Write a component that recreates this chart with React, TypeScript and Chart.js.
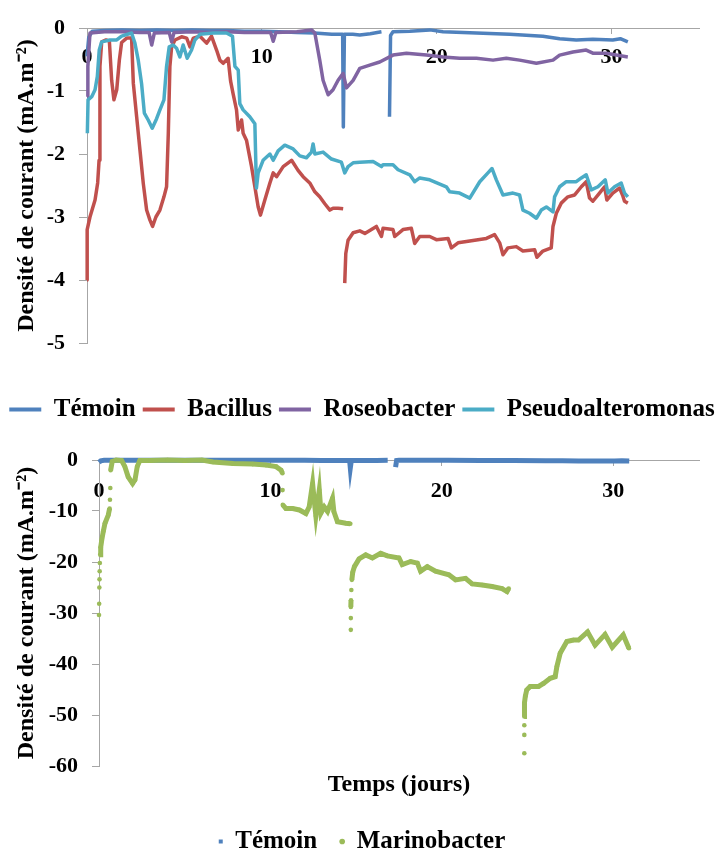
import React, { useEffect, useRef } from 'react';
import { Chart, registerables } from 'chart.js';

Chart.register(...registerables);

const FONT = "'Liberation Serif', 'Times New Roman', serif";

type P = [number, number | null];

// ---------- Top chart data (t in days, current density mA.m-2) ----------
const temoin: P[] = [
  [0, -0.45], [0.1, -0.15], [0.3, -0.05], [1, -0.04], [2, -0.03], [3, -0.04], [4, -0.03], [5, -0.04],
  [6, -0.03], [7, -0.04], [8, -0.04], [9, -0.05], [10, -0.05], [11, -0.06], [12, -0.07], [13, -0.08],
  [14, -0.1], [14.4, -0.1], [14.62, -0.1], [14.66, -1.57], [14.72, -0.1], [15.2, -0.1], [15.6, -0.11],
  [16.2, -0.09], [16.84, -0.06], [17.05, null], [17.3, -1.41], [17.36, -0.12], [17.5, -0.06],
  [18.46, -0.05], [19.6, -0.03], [20.36, -0.06], [22.27, -0.08], [24.17, -0.1], [26.07, -0.13],
  [27.03, -0.17], [27.98, -0.19], [28.93, -0.18], [30.07, -0.19], [30.5, -0.17], [30.93, -0.22],
];

const bacillus: P[] = [
  [0, -4.0], [0.01, -3.2], [0.17, -3.0], [0.46, -2.73], [0.61, -2.46], [0.69, -2.1], [0.74, -0.61],
  [0.84, -0.22], [1.09, -0.19], [1.28, -0.21], [1.41, -0.83], [1.54, -1.14], [1.7, -0.98], [1.85, -0.51],
  [1.98, -0.23], [2.27, -0.16], [2.55, -0.16], [2.65, -0.88], [2.84, -1.41], [3.03, -1.94], [3.22, -2.47],
  [3.41, -2.89], [3.6, -3.05], [3.75, -3.15], [3.94, -3.0], [4.17, -2.89], [4.4, -2.68], [4.55, -2.52],
  [4.65, -1.67], [4.74, -0.61], [4.84, -0.3], [5.03, -0.19], [5.41, -0.14], [5.7, -0.16], [5.89, -0.3],
  [6.08, -0.16], [6.46, -0.13], [6.84, -0.24], [7.12, -0.13], [7.41, -0.35], [7.6, -0.51], [7.79, -0.56],
  [8.07, -0.48], [8.21, -0.84], [8.36, -1.05], [8.55, -1.3], [8.65, -1.62], [8.84, -1.46], [8.93, -1.67],
  [9.12, -1.78], [9.41, -2.2], [9.6, -2.52], [9.79, -2.84], [9.92, -2.97], [10.17, -2.73], [10.46, -2.46],
  [10.65, -2.3], [10.84, -2.36], [11.22, -2.2], [11.7, -2.1], [12.07, -2.26], [12.36, -2.36],
  [12.74, -2.46], [13.03, -2.6], [13.31, -2.68], [13.6, -2.79], [13.89, -2.89], [14.07, -2.86],
  [14.36, -2.86], [14.65, -2.87], [14.7, null], [14.74, -4.05], [14.8, -3.58], [14.93, -3.37],
  [15.22, -3.25], [15.6, -3.22], [15.89, -3.26], [16.55, -3.15], [16.84, -3.31], [16.93, -3.18],
  [17.5, -3.2], [17.6, -3.31], [18.07, -3.2], [18.55, -3.18], [18.74, -3.42], [19.03, -3.31],
  [19.6, -3.31], [19.98, -3.36], [20.65, -3.34], [20.84, -3.49], [21.22, -3.41], [21.7, -3.39],
  [22.36, -3.36], [22.84, -3.34], [23.31, -3.28], [23.6, -3.41], [23.79, -3.6], [24.07, -3.49],
  [24.55, -3.47], [24.93, -3.54], [25.6, -3.52], [25.73, -3.64], [26.07, -3.54], [26.55, -3.49],
  [26.65, -3.15], [26.84, -2.94], [27.12, -2.78], [27.5, -2.68], [27.89, -2.65], [28.27, -2.52],
  [28.55, -2.44], [28.74, -2.7], [28.93, -2.75], [29.31, -2.62], [29.6, -2.52], [29.73, -2.73],
  [30.07, -2.62], [30.46, -2.54], [30.65, -2.67], [30.74, -2.75], [30.93, -2.78],
];

const roseobacter: P[] = [
  [0, -1.09], [0.05, -0.61], [0.17, -0.08], [1, -0.06], [2, -0.06], [3, -0.07], [3.55, -0.07],
  [3.7, -0.27], [3.85, -0.08], [4.7, -0.07], [4.84, -0.22], [4.98, -0.07], [6, -0.06], [7, -0.07],
  [8, -0.06], [9, -0.07], [10.5, -0.07], [10.65, -0.21], [10.8, -0.07], [12, -0.06], [12.84, -0.03],
  [13.03, -0.08], [13.31, -0.51], [13.5, -0.83], [13.79, -1.06], [14.07, -0.98], [14.36, -0.83],
  [14.65, -0.72], [14.84, -0.95], [15.22, -0.83], [15.6, -0.64], [16.17, -0.59], [16.74, -0.54],
  [17.5, -0.43], [18.27, -0.4], [19.41, -0.43], [20.36, -0.46], [21.31, -0.48], [22.27, -0.48],
  [23.22, -0.51], [23.98, -0.48], [24.74, -0.51], [25.7, -0.56], [26.65, -0.51], [27.03, -0.43],
  [27.79, -0.38], [28.55, -0.35], [28.93, -0.4], [29.7, -0.4], [30.27, -0.43], [30.93, -0.46],
];

const pseudoalteromonas: P[] = [
  [0.02, -1.67], [0.06, -1.14], [0.27, -1.09], [0.46, -0.98], [0.59, -0.77], [0.7, -0.35], [0.84, -0.22],
  [1.31, -0.19], [1.7, -0.19], [1.98, -0.13], [2.55, -0.08], [2.74, -0.24], [2.93, -0.51], [3.12, -0.88],
  [3.28, -1.35], [3.5, -1.46], [3.73, -1.59], [3.98, -1.44], [4.17, -1.3], [4.4, -1.14], [4.55, -0.61],
  [4.7, -0.3], [4.93, -0.27], [5.12, -0.32], [5.31, -0.46], [5.5, -0.27], [5.73, -0.48], [5.98, -0.35],
  [6.17, -0.19], [6.46, -0.1], [7.22, -0.08], [7.98, -0.08], [8.32, -0.13], [8.46, -0.61], [8.65, -0.67],
  [8.74, -1.2], [8.93, -1.3], [9.31, -1.41], [9.6, -1.52], [9.69, -2.54], [9.79, -2.3], [10.07, -2.1],
  [10.46, -2.0], [10.65, -2.1], [10.93, -1.95], [11.31, -1.86], [11.79, -1.92], [12.17, -2.03],
  [12.55, -2.06], [12.84, -1.97], [12.93, -1.84], [13.03, -2.0], [13.5, -1.97], [13.98, -2.08],
  [14.55, -2.13], [14.74, -2.3], [14.93, -2.2], [15.22, -2.14], [15.6, -2.13], [16.36, -2.12],
  [16.84, -2.2], [16.93, -2.17], [17.5, -2.17], [17.79, -2.25], [18.46, -2.33], [18.74, -2.44],
  [19.03, -2.38], [19.6, -2.41], [20.55, -2.52], [20.74, -2.6], [21.31, -2.62], [21.89, -2.7],
  [22.46, -2.44], [22.93, -2.3], [23.16, -2.23], [23.41, -2.41], [23.79, -2.65], [24.36, -2.62],
  [24.74, -2.65], [24.93, -2.89], [25.31, -2.94], [25.7, -3.02], [25.98, -2.89], [26.27, -2.84],
  [26.65, -2.92], [26.74, -2.68], [27.03, -2.52], [27.41, -2.44], [27.98, -2.44], [28.27, -2.38],
  [28.55, -2.33], [28.84, -2.57], [29.22, -2.52], [29.64, -2.41], [29.79, -2.62], [30.17, -2.52],
  [30.55, -2.46], [30.74, -2.62], [30.93, -2.68],
];

// ---------- Bottom chart data ----------
const marinobacter: P[] = [
  [0, -30.4], [0.01, -28.2], [0.02, -25.0], [0.03, -23.4], [0.04, -21.8], [0.05, -20.2], [0.07, -18.6],
  [0.1, -17.1], [0.16, -15.7], [0.25, -14.0], [0.35, -12.4], [0.54, -10.8], [0.62, -9.5], [0.64, -7.8],
  [0.66, -5.5], [0.68, -2.0], [0.77, -0.3], [1.0, 0], [1.32, -0.1], [1.51, -1.3], [1.7, -3.3],
  [1.96, -4.6], [2.1, -3.9], [2.23, -1.3], [2.38, -0.1], [3, -0.1], [4, 0], [5, -0.1], [6, 0],
  [6.65, -0.4], [7.81, -0.7], [8.97, -0.8], [9.74, -1.0], [10.33, -1.3], [10.62, -2.0], [10.7, -2.6],
  [10.71, -5.9], [10.72, -8.8], [10.9, -9.5], [11.3, -9.5], [11.69, -9.8], [12.07, -10.5], [12.26, -9.2],
  [12.46, -4.6], [12.55, -7.8], [12.65, -11.0], [12.85, -5.9], [12.95, -10.4], [13.14, -9.2],
  [13.33, -10.1], [13.62, -7.5], [13.7, -10.1], [13.91, -12.1], [14.4, -12.4], [14.66, -12.5],
  [14.68, null], [14.69, -33.3], [14.69, -31.0], [14.69, -28.8], [14.7, -27.5], [14.72, -25.5],
  [14.75, -23.5], [14.8, -22.0], [14.9, -20.9], [15.17, -19.4], [15.56, -18.6], [15.95, -19.2],
  [16.43, -18.3], [16.82, -18.8], [17.5, -19.2], [17.69, -20.5], [18.18, -19.9], [18.57, -20.2],
  [18.76, -21.8], [19.15, -20.9], [19.63, -21.8], [20.41, -22.5], [20.8, -23.5], [21.38, -23.2],
  [21.77, -24.3], [22.35, -24.5], [22.93, -24.8], [23.51, -25.2], [23.8, -25.8], [23.9, -25.2],
  [24.3, null], [24.81, -57.5], [24.81, -53.9], [24.81, -52.0], [24.81, -50.3], [24.81, -49.0],
  [24.83, -47.6], [24.87, -46.3], [24.95, -45.1], [25.15, -44.4], [25.64, -44.4], [25.93, -43.8],
  [26.32, -42.8], [26.61, -42.5], [26.71, -40.5], [26.9, -37.9], [27.29, -35.6], [27.68, -35.3],
  [27.97, -35.3], [28.5, -33.7], [28.94, -36.3], [29.52, -34.2], [29.94, -36.7], [30.58, -34.3],
  [30.91, -36.9],
];

const topNames = ['Témoin', 'Bacillus', 'Roseobacter', 'Pseudoalteromonas'];
const topColors = ['#4F81BD', '#C0504D', '#8064A2', '#4BACC6'];
const bottomNames = ['Témoin', 'Marinobacter'];
const bottomColors = ['#4F81BD', '#9BBB59'];

const xTicksMax = 35;
const xStep = 10;
const topYMin = -5;
const topYStep = 1;
const bottomYMin = -60;
const bottomYStep = 10;

const yTitle = 'Densité de courant (mA.m⁻²)';
const xTitle = 'Temps (jours)';

const AXIS = '#a6a6a6';
const toXY = (arr: P[]) => arr.map(([x, y]) => ({ x, y }));
const tickFont = { family: FONT, size: 22, weight: 'bold' as const };
const titleFont = { family: FONT, size: 24, weight: 'bold' as const };
const legendFont = { family: FONT, size: 25, weight: 'bold' as const };

const spacer = (axis: 'x' | 'y', position: string, size: number, extra: any = {}) =>
  ({
    type: 'linear',
    axis,
    position,
    display: true,
    ticks: { display: false },
    grid: { display: false, drawTicks: false },
    border: { display: false },
    afterFit: (s: any) => {
      if (axis === 'x') s.height = size;
      else s.width = size;
    },
    ...extra,
  }) as any;

function TopChart() {
  const ref = useRef<HTMLCanvasElement>(null);
  useEffect(() => {
    const series = [temoin, bacillus, roseobacter, pseudoalteromonas];
    const chart = new Chart(ref.current!, {
      type: 'line',
      data: {
        datasets: series.map((s, i) => ({
          label: topNames[i],
          data: toXY(s),
          xAxisID: 'x',
          yAxisID: 'y',
          borderColor: topColors[i],
          backgroundColor: topColors[i],
          borderWidth: 3.5,
          pointRadius: 0,
          tension: 0,
          clip: false as any,
          borderJoinStyle: 'round' as const,
          order: 3 - i,
        })),
      },
      options: {
        responsive: false,
        animation: false,
        events: [],
        layout: { padding: { top: 28, right: 0, bottom: 8, left: 0 } },
        plugins: {
          tooltip: { enabled: false },
          legend: {
            position: 'bottom',
            labels: {
              font: legendFont,
              color: '#000',
              boxWidth: 32,
              boxHeight: 4,
              padding: 7,
              generateLabels: () =>
                topNames.map((n, i) => ({
                  text: n,
                  fillStyle: topColors[i],
                  strokeStyle: topColors[i],
                  lineWidth: 0,
                  hidden: false,
                  datasetIndex: i,
                })),
            },
          },
        },
        scales: {
          x: {
            type: 'linear',
            position: { y: 0 } as any,
            min: 0,
            max: xTicksMax,
            ticks: { stepSize: xStep, includeBounds: false, font: tickFont, color: '#000', padding: 11, maxRotation: 0 },
            grid: { drawOnChartArea: false, tickLength: 5, color: AXIS },
            border: { color: AXIS },
          },
          y: {
            type: 'linear',
            position: 'left',
            min: topYMin,
            max: 0,
            ticks: { stepSize: topYStep, font: tickFont, color: '#000', padding: 14 },
            grid: { drawOnChartArea: false, tickLength: 8, color: AXIS },
            border: { color: AXIS },
            title: { display: true, text: yTitle, font: titleFont, color: '#000', padding: { top: 12, bottom: 0 } },
            afterFit: (s: any) => {
              s.width = 87;
            },
          },
          gap: spacer('x', 'bottom', 47),
          gapR: spacer('y', 'right', 25),
        },
      },
    });
    return () => chart.destroy();
  }, []);
  return (
    <canvas
      ref={ref}
      width={724}
      height={440}
      style={{ position: 'absolute', left: 0, top: 0, width: 724, height: 440 }}
    />
  );
}

function BottomChart() {
  const ref = useRef<HTMLCanvasElement>(null);
  useEffect(() => {
    const chart = new Chart(ref.current!, {
      type: 'line',
      data: {
        datasets: [
          {
            label: bottomNames[1],
            data: toXY(marinobacter),
            xAxisID: 'x',
            yAxisID: 'y',
            borderColor: bottomColors[1],
            backgroundColor: bottomColors[1],
            borderWidth: 5,
            pointRadius: 2.3,
            pointBorderWidth: 0,
            pointBackgroundColor: bottomColors[1],
            pointStyle: 'circle',
            tension: 0,
            clip: false as any,
            order: 0,
            segment: {
              borderColor: (ctx: any) => {
                const a = marinobacter[ctx.p0DataIndex];
                const b = marinobacter[ctx.p1DataIndex];
                if (!a || !b || a[1] === null || b[1] === null) return undefined;
                return Math.abs((b[1] as number) - (a[1] as number)) > 1.5 && Math.abs(b[0] - a[0]) < 0.03
                  ? 'rgba(0,0,0,0)'
                  : undefined;
              },
            },
          },
          {
            label: bottomNames[0],
            data: toXY(temoin),
            xAxisID: 'x',
            yAxisID: 'y',
            borderColor: bottomColors[0],
            backgroundColor: bottomColors[0],
            borderWidth: 5,
            pointRadius: 0,
            pointStyle: 'rect',
            tension: 0,
            clip: false as any,
            borderCapStyle: 'butt' as const,
            order: 1,
          },
        ],
      },
      options: {
        responsive: false,
        animation: false,
        events: [],
        layout: { padding: { top: 28, right: 0, bottom: 16, left: 0 } },
        plugins: {
          tooltip: { enabled: false },
          legend: {
            position: 'bottom',
            labels: {
              font: legendFont,
              color: '#000',
              usePointStyle: true,
              boxWidth: 4,
              boxHeight: 4,
              padding: 23,
              generateLabels: () =>
                bottomNames.map((n, i) => ({
                  text: n,
                  fillStyle: bottomColors[i],
                  strokeStyle: bottomColors[i],
                  lineWidth: 0,
                  pointStyle: i === 0 ? 'rect' : 'circle',
                  hidden: false,
                  datasetIndex: i,
                })),
            },
          },
        },
        scales: {
          x: {
            type: 'linear',
            position: { y: 0 } as any,
            min: 0,
            max: xTicksMax,
            ticks: { stepSize: xStep, includeBounds: false, font: tickFont, color: '#000', padding: 13, maxRotation: 0 },
            grid: { drawOnChartArea: false, tickLength: 5, color: AXIS },
            border: { color: AXIS },
          },
          y: {
            type: 'linear',
            position: 'left',
            min: bottomYMin,
            max: 0,
            ticks: { stepSize: bottomYStep, font: tickFont, color: '#000', padding: 14 },
            grid: { drawOnChartArea: false, tickLength: 7, color: AXIS },
            border: { color: AXIS },
            title: { display: true, text: yTitle, font: titleFont, color: '#000', padding: { top: 12, bottom: 0 } },
            afterFit: (s: any) => {
              s.width = 99;
            },
          },
          gap: spacer('x', 'bottom', 40, {
            title: { display: true, text: xTitle, font: titleFont, color: '#000', padding: { top: 0, bottom: 7 } },
          }),
          gapR: spacer('y', 'right', 25),
        },
      },
    });
    return () => chart.destroy();
  }, []);
  return (
    <canvas
      ref={ref}
      width={724}
      height={448}
      style={{ position: 'absolute', left: 0, top: 432, width: 724, height: 448 }}
    />
  );
}

export default function App() {
  return (
    <div
      style={{
        position: 'fixed',
        left: 0,
        top: 0,
        width: 724,
        height: 851,
        overflow: 'hidden',
        background: '#fff',
      }}
    >
      <TopChart />
      <BottomChart />
    </div>
  );
}
